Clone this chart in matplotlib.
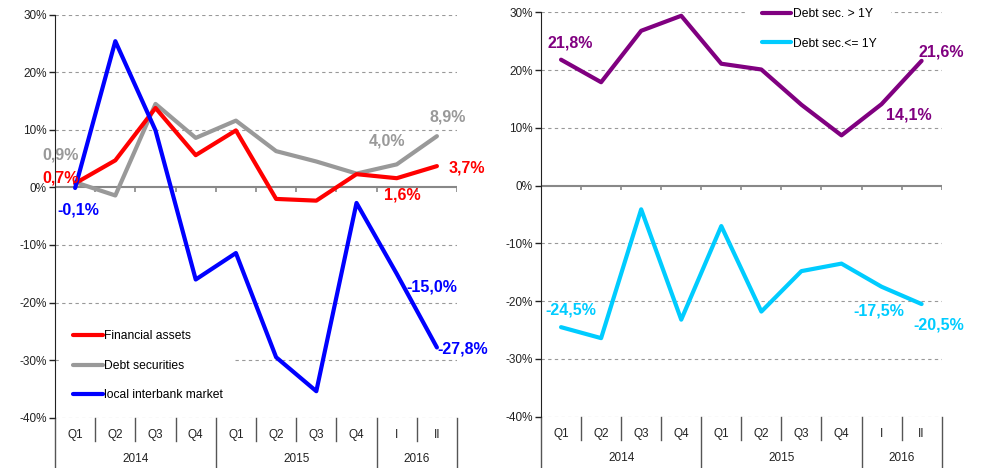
import numpy as np
import matplotlib.pyplot as plt
from matplotlib.ticker import FuncFormatter

plt.rcParams['font.family'] = ['Liberation Sans', 'DejaVu Sans']

# categories
quarters = ['Q1', 'Q2', 'Q3', 'Q4', 'Q1', 'Q2', 'Q3', 'Q4', 'I', 'II']
years = ['2014', '2015', '2016']
year_spans = [4, 4, 2]

# left panel, % change
financial_assets = [0.7, 4.7, 13.8, 5.6, 9.9, -2.0, -2.3, 2.3, 1.6, 3.7]
debt_securities = [0.9, -1.4, 14.5, 8.6, 11.6, 6.3, 4.5, 2.4, 4.0, 8.9]
interbank = [-0.1, 25.4, 9.9, -16.0, -11.4, -29.5, -35.4, -2.7, -15.0, -27.8]

# right panel, % change
debt_long = [21.8, 17.9, 26.8, 29.4, 21.1, 20.1, 14.0, 8.7, 14.1, 21.6]
debt_short = [-24.5, -26.4, -4.1, -23.2, -7.0, -21.8, -14.8, -13.5, -17.5, -20.5]

RED = '#ff0000'
GREY = '#999999'
BLUE = '#0000ff'
PURPLE = '#800080'
CYAN = '#00ccff'


def fmt(v):
    return f'{v:.1f}%'.replace('.', ',')


def setup(ax):
    x = np.arange(len(quarters))
    ax.set_xlim(-0.5, len(quarters) - 0.5)
    ax.set_ylim(-40, 30)
    ax.set_yticks(range(-40, 31, 10))
    ax.yaxis.set_major_formatter(FuncFormatter(lambda v, p: f'{v:.0f}%'))
    ax.tick_params(axis='y', length=4, width=1, labelsize=8.5, pad=2, colors='#222222')
    ax.set_xticks([])
    for s in ['top', 'right', 'bottom']:
        ax.spines[s].set_visible(False)
    ax.spines['left'].set_color('#222222')
    for v in range(-40, 31, 10):
        if v != 0:
            ax.axhline(v, ls=(0, (3, 3)), color=GREY, lw=0.8, zorder=0)
    ax.axhline(0, color='#888888', lw=1.5, zorder=1)
    bounds = np.arange(0.5, len(quarters))
    ax.vlines(bounds, -0.8, 0, color='#888888', lw=1.2, zorder=1)

    tr = ax.get_xaxis_transform()
    for i, q in enumerate(quarters):
        ax.text(x[i], -0.042, q, transform=tr, ha='center', va='center', fontsize=8.5, color='#222222')
    year_edges = np.concatenate([[0], np.cumsum(year_spans)]) - 0.5
    for b in np.arange(-0.5, len(quarters)):
        low = -0.125 if b in year_edges else -0.057
        ax.plot([b, b], [0, low], transform=tr, clip_on=False, color='#555555', lw=1)
    for k, y in enumerate(years):
        mid = (year_edges[k] + year_edges[k + 1]) / 2
        ax.text(mid, -0.102, y, transform=tr, ha='center', va='center', fontsize=8.5, color='#222222')


def label(ax, series, i, dx, dy, color):
    ax.annotate(fmt(series[i]), xy=(i, series[i]), xytext=(dx, dy), textcoords='offset pixels',
                ha='center', va='center', color=color, fontweight='bold', fontsize=11.5, zorder=5)


fig = plt.figure(figsize=(9.86, 4.68), dpi=100)
ax1 = fig.add_axes([0.0558, 0.1075, 0.4077, 0.8611])
ax2 = fig.add_axes([0.5487, 0.1096, 0.4063, 0.8641])

x = np.arange(len(quarters))
setup(ax1)
kw = dict(lw=3, solid_joinstyle='round', solid_capstyle='round')
l2, = ax1.plot(x, debt_securities, color=GREY, label='Debt securities', zorder=2, **kw)
l1, = ax1.plot(x, financial_assets, color=RED, label='Financial assets', zorder=3, **kw)
l3, = ax1.plot(x, interbank, color=BLUE, label='local interbank market', zorder=4, **kw)
leg = ax1.legend(handles=[l1, l2, l3], loc='upper left', bbox_to_anchor=(0.015, 0.247),
                 frameon=True, fontsize=8.7, handlelength=2.45, handletextpad=0.1,
                 labelspacing=1.45, borderpad=1.0, borderaxespad=0)
leg.get_frame().set_facecolor('white')
leg.get_frame().set_edgecolor('none')
leg.get_frame().set_alpha(1)
leg.set_zorder(6)

label(ax1, debt_securities, 0, -15, 27, GREY)
label(ax1, financial_assets, 0, -15, 5, RED)
label(ax1, interbank, 0, 3, -22, BLUE)
label(ax1, debt_securities, 8, -10, 23, GREY)
label(ax1, debt_securities, 9, 11, 19, GREY)
label(ax1, financial_assets, 9, 30, -2, RED)
label(ax1, financial_assets, 8, 6, -17, RED)
label(ax1, interbank, 8, 35, -13, BLUE)
label(ax1, interbank, 9, 26, -2, BLUE)

setup(ax2)
m1, = ax2.plot(x, debt_long, color=PURPLE, label='Debt sec. > 1Y', zorder=3, **kw)
m2, = ax2.plot(x, debt_short, color=CYAN, label='Debt sec.<= 1Y', zorder=3, **kw)
leg2 = ax2.legend(handles=[m1, m2], loc='upper left', bbox_to_anchor=(0.515, 1.046),
                  frameon=True, fontsize=8.7, handlelength=2.45, handletextpad=0.1,
                  labelspacing=1.45, borderpad=1.2, borderaxespad=0)
leg2.get_frame().set_facecolor('white')
leg2.get_frame().set_edgecolor('none')
leg2.get_frame().set_alpha(1)
leg2.set_zorder(6)

label(ax2, debt_long, 0, 9, 17, PURPLE)
label(ax2, debt_long, 9, 20, 9, PURPLE)
label(ax2, debt_long, 8, 27, -11, PURPLE)
label(ax2, debt_short, 0, 10, 17, CYAN)
label(ax2, debt_short, 8, -3, -24, CYAN)
label(ax2, debt_short, 9, 17, -21, CYAN)

fig.savefig('out.png', dpi=100)
